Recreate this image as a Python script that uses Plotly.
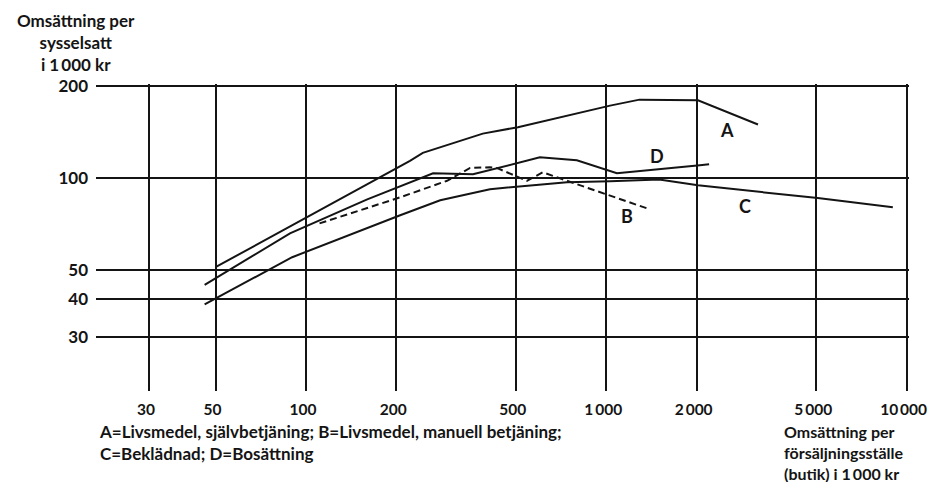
import math
import plotly.graph_objects as go

# ---- data ----
a_x = [50, 100, 222, 245, 388, 508, 1030, 1290, 2020, 3200]
a_y = [51, 74, 114, 121, 140, 147, 173, 181, 180, 150]

b_x = [111, 206, 295, 352, 410, 432, 544, 615, 740, 1365]
b_y = [71, 86.5, 98, 108, 108.5, 108, 98, 104.5, 98, 79.6]

c_x = [46, 90, 206, 280, 410, 510, 740, 1030, 1500, 2020, 5060, 9000]
c_y = [38.5, 55, 75.5, 84.6, 92, 94, 97, 97.6, 99, 94.7, 86, 80.2]

d_x = [46, 88.5, 160, 265, 360, 601, 798, 1085, 2050, 2200]
d_y = [44.6, 65.9, 85.2, 103.7, 102.9, 117, 114.4, 103.7, 110.2, 111]

x_tickvals = [30, 50, 100, 200, 500, 1000, 2000, 5000, 10000]
x_ticktext = ["30", "50", "100", "200", "500", "1\u2009000", "2\u2009000", "5\u2009000",
              "10\u2009000"]
y_tickvals = [30, 40, 50, 100, 200]
y_ticktext = ["30", "40", "50", "100", "200"]

series_labels = ["A", "B", "C", "D"]
y_title_lines = ["Omsättning per", "sysselsatt", "i 1\u2009000 kr"]
x_title_lines = ["Omsättning per", "försäljningsställe", "(butik) i 1\u2009000 kr"]
note_lines = ["A=Livsmedel, självbetjäning; B=Livsmedel, manuell betjäning;",
              "C=Beklädnad; D=Bosättning"]

# ---- geometry ----
W, H = 928, 482
KX, KY = 300.4, 305.0          # pixels per decade
PAD = 0.008                    # extra decades so edge gridlines are drawn
X0, X1 = math.log10(20), math.log10(10000) + PAD
Y0, Y1 = math.log10(20), math.log10(200) + PAD
ML = 96
PW = KX * (X1 - X0)
MR = W - ML - PW
MT = 86 - PAD * KY
PH = KY * (Y1 - Y0)
MB = H - MT - PH
INK = "#141414"
FONT = "Lato"


def px_to_paper(px, py):
    return (px - ML) / PW, (H - MB - py) / PH


fig = go.Figure()
for xs, ys, dash in [(a_x, a_y, "solid"), (b_x, b_y, "7px,4px"),
                     (c_x, c_y, "solid"), (d_x, d_y, "solid")]:
    fig.add_trace(go.Scatter(x=xs, y=ys, mode="lines",
                             line=dict(color=INK, width=2, dash=dash),
                             hoverinfo="skip", showlegend=False))

# series letters
label_pos = {"A": (727, 130), "B": (627, 216), "C": (745, 206), "D": (657, 156)}
for s in series_labels:
    px, py = label_pos[s]
    xp, yp = px_to_paper(px, py)
    fig.add_annotation(x=xp, y=yp, xref="paper", yref="paper", text=s,
                       showarrow=False, xanchor="center", yanchor="middle",
                       font=dict(family=FONT, size=18, color=INK, weight=700))


def add_block(lines, px, py, size, anchor, align):
    xp, yp = px_to_paper(px, py)
    fig.add_annotation(x=xp, y=yp, xref="paper", yref="paper",
                       text="<br>".join(lines), showarrow=False,
                       xanchor=anchor, yanchor="middle", align=align,
                       borderpad=0,
                       font=dict(family=FONT, size=size, color=INK, weight=700))


add_block(y_title_lines, 76, 42.5, 17, "center", "center")   # y-axis title
add_block(x_title_lines, 783, 452.5, 16, "left", "left")     # x-axis title
add_block(note_lines, 98, 443, 17, "left", "left")           # key

fig.update_layout(
    width=W, height=H,
    margin=dict(l=ML, r=MR, t=MT, b=MB, autoexpand=False),
    paper_bgcolor="white", plot_bgcolor="white",
    showlegend=False,
    xaxis=dict(type="log", range=[X0, X1], automargin=False,
               tickvals=x_tickvals, ticktext=x_ticktext,
               showgrid=True, gridcolor=INK, gridwidth=1.6,
               showline=False, zeroline=False, ticks="",
               ticklabelstandoff=7, ticklabelshift=-3,
               tickfont=dict(family=FONT, size=15.5, color=INK, weight=700)),
    yaxis=dict(type="log", range=[Y0, Y1], automargin=False,
               tickvals=y_tickvals, ticktext=y_ticktext,
               showgrid=True, gridcolor=INK, gridwidth=1.6,
               showline=False, zeroline=False, ticks="",
               ticklabelstandoff=7,
               tickfont=dict(family=FONT, size=17, color=INK, weight=700)),
)

fig.write_html(
    "out.html",
    config={"displayModeBar": False},
    post_script="document.body.style.margin='0';document.body.style.overflow='hidden';",
)
